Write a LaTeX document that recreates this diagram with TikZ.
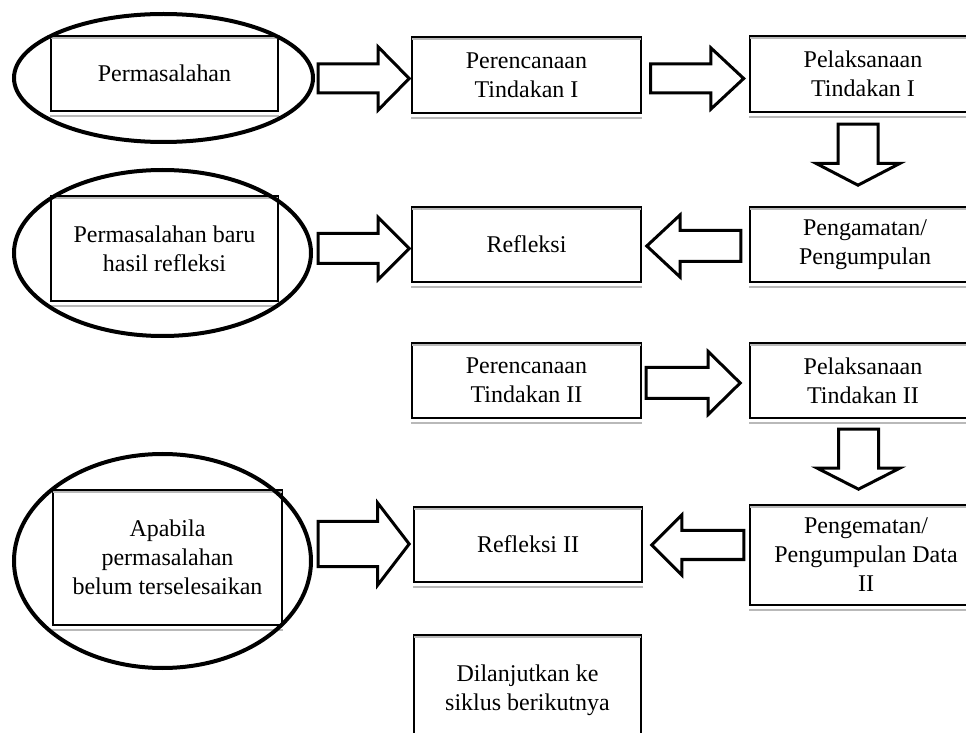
\documentclass[tikz,border=0pt]{standalone}
\usepackage{fontspec}
\setmainfont{Liberation Serif}
\usetikzlibrary{calc,shapes.geometric,shapes.arrows}
\tikzset{
	stage/.style={draw, line width=0.8pt, fill=white, align=center, inner sep=0pt,
		font=\fontsize{12}{14.5}\selectfont},
	ring/.style={ellipse, draw, line width=2pt, inner sep=0pt},
	blockarrow/.style n args={4}{single arrow, draw, fill=white, line width=1.5pt,
		inner xsep=0pt, inner ysep=#2pt, outer sep=0pt, minimum height=#1pt,
		single arrow head extend=#3pt, single arrow tip angle=#4,
		single arrow head indent=0pt, anchor=tip},
	shade/.style={gray!55, line width=0.8pt}
}
\begin{document}
\begin{tikzpicture}[x=0.5pt,y=-0.5pt]
	\useasboundingbox (0,0) rectangle (966,733);
	\clip (0,0) rectangle (966,733);
	% siklus I
	\node[stage, minimum width=113.5pt, minimum height=37.5pt] (p1) at (164.5,73.5) {Permasalahan};
	\node[stage, minimum width=114.5pt, minimum height=38pt] (p2) at (526.5,75) {Perencanaan\\Tindakan I};
	\node[stage, minimum width=113pt, minimum height=38pt] (p3) at (863,74) {Pelaksanaan\\Tindakan I};
	\node[stage, minimum width=113.5pt, minimum height=52.5pt] (p4) at (164.5,248.5) {Permasalahan baru\\hasil refleksi};
	\node[stage, minimum width=114.5pt, minimum height=37.5pt] (p5) at (526.5,244.5) {Refleksi};
	\node[stage, minimum width=115pt, minimum height=37.5pt] (p6) at (865,244.5) {Pengamatan/\\Pengumpulan};
	% siklus II
	\node[stage, minimum width=114.5pt, minimum height=37.5pt] (p7) at (526.5,380.5) {Perencanaan\\Tindakan II};
	\node[stage, minimum width=113pt, minimum height=37.5pt] (p8) at (863,380.5) {Pelaksanaan\\Tindakan II};
	\node[stage, minimum width=114.5pt, minimum height=67.5pt] (p9) at (167.5,557.5) {Apabila\\permasalahan\\belum terselesaikan};
	\node[stage, minimum width=114pt, minimum height=37.5pt] (p10) at (528,544.5) {Refleksi II};
	\node[stage, minimum width=116pt, minimum height=50pt] (p11) at (866,555) {Pengematan/\\Pengumpulan Data\\II};
	\node[stage, minimum width=113.5pt, minimum height=55pt] (p12) at (527.5,690) {Dilanjutkan ke\\siklus berikutnya};
	\foreach \n in {p1,p2,p3,p4,p5,p6,p7,p8,p9,p10,p11,p12} {
		\draw[shade] ($(\n.north west)+(1,3)$) -- ($(\n.north east)+(-1,3)$);
		\draw[shade] ($(\n.south west)+(0,4)$) -- ($(\n.south east)+(0,4)$);
	}
	% lingkaran
	\node[ring, minimum width=149.5pt, minimum height=64pt] (e1) at (163.5,78) {};
	\node[ring, minimum width=148.5pt, minimum height=83pt] (e2) at (162.5,253) {};
	\node[ring, minimum width=148.5pt, minimum height=107pt] (e3) at (162.5,561) {};
	% panah
	\node[blockarrow={45.5}{6.5}{8.5}{91}] (a1) at ($(p2.west)+(-2,3.5)$) {};
	\node[blockarrow={46.5}{6.5}{8}{86}] (a2) at ($(p3.west)+(-5.5,4.5)$) {};
	\node[blockarrow={30.5}{9.25}{11}{125}, rotate=-90] (d1) at ($(p6.north)+(-7,-21)$) {};
	\node[blockarrow={47}{7}{7.75}{86}, rotate=180] (l1) at ($(p5.east)+(5,1.5)$) {};
	\node[blockarrow={45.5}{6.75}{8}{90}] (r2) at ($(p5.west)+(-2,4)$) {};
	\node[blockarrow={47}{7}{8}{89}] (a3) at ($(p8.west)+(-9,2.5)$) {};
	\node[blockarrow={30}{9.25}{10.75}{126}, rotate=-90] (d2) at ($(p11.north)+(-7.5,-15)$) {};
	\node[blockarrow={46}{6.5}{7.75}{90}, rotate=180] (l4) at ($(p10.east)+(9,0.5)$) {};
	\node[blockarrow={45.5}{10.5}{9.25}{105}] (r4) at ($(p10.west)+(-4,-0.5)$) {};
\end{tikzpicture}
\end{document}
